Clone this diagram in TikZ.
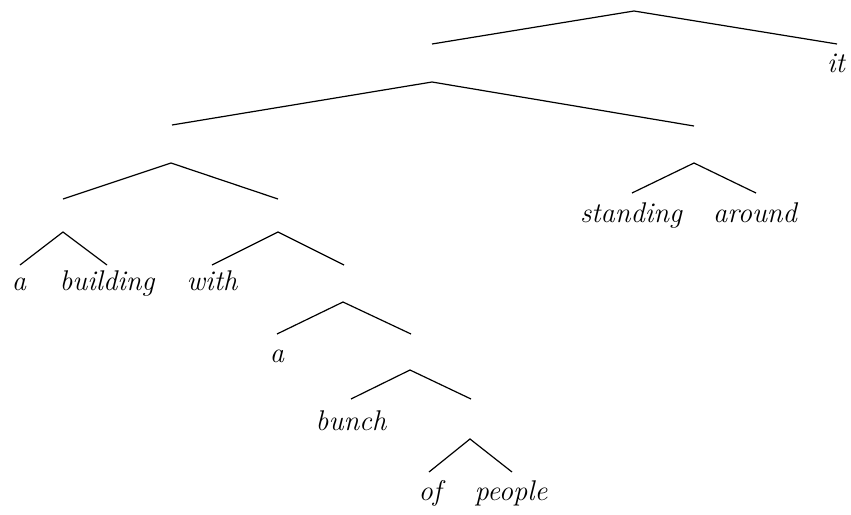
\documentclass[tikz,border=0pt]{standalone}
\usetikzlibrary{positioning}

\begin{document}
\begin{tikzpicture}[x=1pt,y=-1pt,
    word/.style={anchor=base,inner sep=0pt,font=\fontsize{28.5}{33}\selectfont\itshape},
    branch/.style={line width=1.2pt}]
    \useasboundingbox (0,0) rectangle (851,514);
    % apex of each phrase and the ends of its two branches
    \coordinate (s) at (634,11);   \coordinate (sl) at (432,44);   \coordinate (sr) at (837,44);
    \coordinate (x) at (432,82);   \coordinate (xl) at (172,125);  \coordinate (xr) at (694,126);
    \coordinate (np) at (171,163); \coordinate (npl) at (63,199);  \coordinate (npr) at (278,199);
    \coordinate (dp) at (63,232);  \coordinate (dpl) at (20,265);  \coordinate (dpr) at (107,265);
    \coordinate (pp) at (278,232); \coordinate (ppl) at (212,265); \coordinate (ppr) at (344,265);
    \coordinate (nq) at (343,302); \coordinate (nql) at (277,334); \coordinate (nqr) at (411,334);
    \coordinate (nb) at (410,370); \coordinate (nbl) at (351,399); \coordinate (nbr) at (471,399);
    \coordinate (po) at (470,439); \coordinate (pol) at (429,472); \coordinate (por) at (512,472);
    \coordinate (vp) at (694,163); \coordinate (vpl) at (632,193); \coordinate (vpr) at (756,193);
    \foreach \a in {s,x,np,dp,pp,nq,nb,po,vp}
        \draw [branch] (\a l) -- (\a) -- (\a r);
    % words
    \node [word] (wit) at (836,72) {it};
    \node [word] (wa) at (19,290) {a};
    \node [word] (wbuilding) at (107,290) {building};
    \node [word] (wwith) at (212,290) {with};
    \node [word] (wa2) at (277,362) {a};
    \node [word] (wbunch) at (351,430) {bunch};
    \node [word] (wof) at (430,500) {of};
    \node [word] (wpeople) at (511,500) {people};
    \node [word] (wstanding) at (631,222) {standing};
    \node [word] (waround) at (755,222) {around};
\end{tikzpicture}
\end{document}
